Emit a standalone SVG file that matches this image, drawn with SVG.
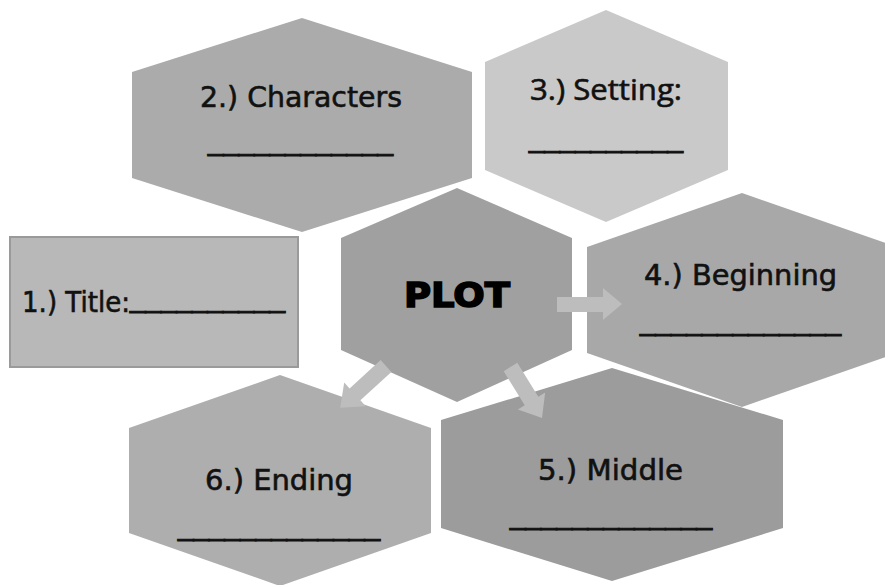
<svg xmlns="http://www.w3.org/2000/svg" width="885" height="585" viewBox="0 0 885 585">
<style>
.lbl{font-family:"DejaVu Sans","Liberation Sans",sans-serif;font-size:28px;fill:#111;stroke:#111;stroke-width:0.6;}
.cal{font-family:"Open Sans","Liberation Sans",sans-serif;font-size:29px;fill:#111;stroke:#111;stroke-width:0.6;}
.blank{font-family:"Liberation Sans",sans-serif;font-size:27px;fill:#111;stroke:#111;stroke-width:1.2;}
.plot{font-family:"DejaVu Sans","Liberation Sans",sans-serif;font-size:34px;font-weight:900;fill:#000;stroke:#000;stroke-width:1.6;}
.arrow{fill:#bdbdbd;}
</style>
<rect width="885" height="585" fill="#ffffff"/>
<g id="node-characters">
<polygon points="132,72 302,18 472,72 472,178 302,232 132,178" fill="#ababab"/>
<text class="lbl" x="200" y="107" textLength="202" lengthAdjust="spacingAndGlyphs">2.) Characters</text>
<text class="blank" x="208" y="150" textLength="185" lengthAdjust="spacingAndGlyphs">____________</text>
</g>
<g id="node-setting">
<polygon points="485,62 606,10 728,62 728,170 606,222 485,170" fill="#c9c9c9"/>
<text class="cal" x="530" y="100" textLength="152" lengthAdjust="spacingAndGlyphs">3.) Setting:</text>
<text class="blank" x="529" y="147" textLength="154" lengthAdjust="spacingAndGlyphs">__________</text>
</g>
<g id="node-title">
<rect x="10" y="237" width="288" height="130" fill="#b8b8b8" stroke="#9a9a9a" stroke-width="2"/>
<text class="lbl" x="22" y="312" textLength="108" lengthAdjust="spacingAndGlyphs">1.) Title:</text>
<text class="blank" x="130" y="307" textLength="155" lengthAdjust="spacingAndGlyphs">__________</text>
</g>
<g id="node-plot">
<polygon points="341,238 457,188 572,238 572,350 457,402 341,350" fill="#a0a0a0"/>
<text class="plot" x="404" y="307" textLength="106" lengthAdjust="spacingAndGlyphs">PLOT</text>
</g>
<g id="node-beginning">
<polygon points="587,247 742,193 897,247 897,353 742,407 587,353" fill="#a8a8a8"/>
<text class="lbl" x="644" y="285" textLength="193" lengthAdjust="spacingAndGlyphs">4.) Beginning</text>
<text class="blank" x="640" y="330" textLength="201" lengthAdjust="spacingAndGlyphs">_____________</text>
</g>
<g id="node-middle">
<polygon points="441,420 612,368 783,420 783,528 612,581 441,528" fill="#9c9c9c"/>
<text class="lbl" x="538" y="480" textLength="145" lengthAdjust="spacingAndGlyphs">5.) Middle</text>
<text class="blank" x="510" y="524" textLength="202" lengthAdjust="spacingAndGlyphs">_____________</text>
</g>
<g id="node-ending">
<polygon points="129,428 280,375 431,428 431,533 280,586 129,533" fill="#aeaeae"/>
<text class="lbl" x="205" y="490" textLength="148" lengthAdjust="spacingAndGlyphs">6.) Ending</text>
<text class="blank" x="178" y="535" textLength="202" lengthAdjust="spacingAndGlyphs">_____________</text>
</g>
<g id="connectors">
<polygon class="arrow" points="557,297 603,297 603,288 622,304 603,320 603,312 557,312"/>
<polygon class="arrow" points="0,-8 42,-8 42,-16 62,0 42,16 42,8 0,8" transform="translate(386,366) rotate(137.6)"/>
<polygon class="arrow" points="0,-8 40,-8 40,-16 60,0 40,16 40,8 0,8" transform="translate(510.5,367) rotate(58.3)"/>
</g>
</svg>
